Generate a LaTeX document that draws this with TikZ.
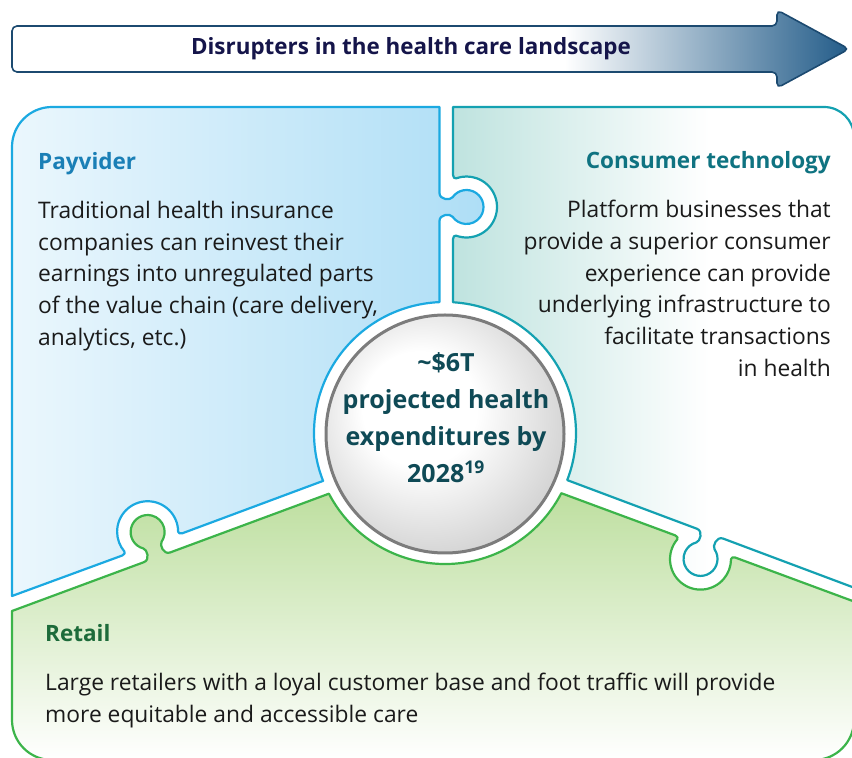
\documentclass[tikz,border=0pt]{standalone}
\usepackage{fontspec}
\setmainfont{Open Sans}

\definecolor{payline}{HTML}{1BA9E1}
\definecolor{payfill}{HTML}{AEDEF6}
\definecolor{payhd}{HTML}{1A7FB6}
\definecolor{techline}{HTML}{14A1B1}
\definecolor{techfill}{HTML}{BFE3DF}
\definecolor{techhd}{HTML}{0F7381}
\definecolor{shopline}{HTML}{3CB44A}
\definecolor{shopfill}{HTML}{BEDFA0}
\definecolor{shophd}{HTML}{1D6B3A}
\definecolor{ringgray}{HTML}{7C7C7C}
\definecolor{hubtxt}{HTML}{0F4A56}
\definecolor{bannerline}{HTML}{1C4A70}
\definecolor{bannerdark}{HTML}{235C89}
\definecolor{bannertxt}{HTML}{15154A}
\definecolor{bodytxt}{HTML}{1A1A1A}

\pgfdeclarehorizontalshading{techshade}{100bp}{color(0bp)=(techfill); color(25bp)=(techfill); color(57bp)=(white); color(100bp)=(white)}
\pgfdeclarehorizontalshading{bannershade}{100bp}{color(0bp)=(white); color(58bp)=(white); color(75bp)=(bannerdark); color(100bp)=(bannerdark)}
\pgfdeclareradialshading{hubshade}{\pgfqpoint{-7bp}{7bp}}{color(0bp)=(white); color(12bp)=(white); color(31bp)=(black!19); color(50bp)=(black!19)}

% local frame of a tab: base point, direction of travel
\tikzset{kf/.style n args={3}{shift={(#1,#2)},rotate=#3}}

% tab sticking out on the left of the direction of travel
\newcommand\knob[3]{
  -- ([kf={#1}{#2}{#3}]-14,0)
  .. controls ([kf={#1}{#2}{#3}]-7,0) and ([kf={#1}{#2}{#3}]-6.5,10.8) .. ([kf={#1}{#2}{#3}]-9.75,13.07)
  arc[start angle=235+#3, end angle=-55+#3, radius=17]
  .. controls ([kf={#1}{#2}{#3}]6.5,10.8) and ([kf={#1}{#2}{#3}]7,0) .. ([kf={#1}{#2}{#3}]14,0)}

% matching hole, cut on the right of the direction of travel
\newcommand\socket[3]{
  -- ([kf={#1}{#2}{#3}]-32,0)
  .. controls ([kf={#1}{#2}{#3}]-29.5,0) and ([kf={#1}{#2}{#3}]-28.2,-1.7) .. ([kf={#1}{#2}{#3}]-28.66,-3.07)
  arc[start angle=160+#3, end angle=380+#3, radius=30.5]
  .. controls ([kf={#1}{#2}{#3}]28.2,-1.7) and ([kf={#1}{#2}{#3}]29.5,0) .. ([kf={#1}{#2}{#3}]32,0)}

\begin{document}
\begin{tikzpicture}[x=1pt, y=1pt,
  piece/.style={line width=2.2pt, line join=round},
  head/.style={font=\fontsize{22.5}{27}\selectfont\bfseries, inner sep=0pt},
  body/.style={font=\fontsize{22.8}{31.7}\selectfont, text=bodytxt, inner sep=0pt}]

\useasboundingbox (0,0) rectangle (852,758);
\clip (0,0) rectangle (852,758);

% payvider
\draw[piece, draw=payline, left color=payfill!25!white, right color=payfill]
  (12,162) -- (12,611) arc[start angle=180, end angle=90, radius=40] -- (439.5,651)
  \knob{439.5}{551}{-90}
  -- ([shift={(445,325)}]92.41:131) arc[start angle=92.41, end angle=201.45, radius=131]
  \socket{152.3}{213.6}{200.3} -- cycle;

% consumer technology
\draw[piece, draw=techline, shade, shading=techshade]
  (453,651) -- (824,651) arc[start angle=90, end angle=0, radius=30] -- (854,170.35)
  \knob{710}{224.35}{159.44}
  -- ([shift={(445,325)}]-21.08:131) arc[start angle=-21.08, end angle=86.5, radius=131]
  \socket{453}{551}{90} -- cycle;

% retail
\draw[piece, draw=shopline, top color=shopfill, bottom color=white]
  (12,147) \knob{157}{200.67}{20.31}
  -- ([shift={(445,325)}]207.6:131) arc[start angle=207.6, end angle=332.63, radius=131]
  \socket{705.2}{211.55}{-20.3} -- (854,156.5) -- (854,38) arc[start angle=0, end angle=-90, radius=40]
  -- (52,-2) arc[start angle=270, end angle=180, radius=40] -- cycle;

% centre disc
\node[circle, draw=ringgray, line width=3pt, minimum size=238pt, inner sep=0pt, shade, shading=hubshade] (hub) at (445,324) {};
\node[font=\fontsize{25}{37}\selectfont\bfseries, text=hubtxt, align=center, inner sep=0pt, anchor=north] (hubtext) at (446,406)
  {\textasciitilde\$6T\\projected health\\expenditures by\\2028\textsuperscript{19}};

% banner arrow
\draw[draw=bannerline, line width=1.6pt, rounded corners=5pt, shade, shading=bannershade]
  (12,686) -- (12,732) -- (777,732) -- (777,748) -- (849,709) -- (777,670) -- (777,686) -- cycle;
\node[font=\fontsize{22.4}{26}\selectfont\bfseries, text=bannertxt] (title) at (411,709) {Disrupters in the health care landscape};

\node[head, text=payhd, anchor=base west] (payname) at (38,588) {Payvider};
\node[body, anchor=north west, align=left] (paybody) at (38,557)
  {Traditional health insurance\\companies can reinvest their\\earnings into unregulated parts\\of the value chain (care delivery,\\analytics, etc.)};

\node[head, text=techhd, anchor=base east] (techname) at (831,589) {Consumer technology};
\node[body, anchor=north east, align=right] (techbody) at (831,558)
  {Platform businesses that\\provide a superior consumer\\experience can provide\\underlying infrastructure to\\facilitate transactions\\in health};

\node[head, text=shophd, anchor=base west] (shopname) at (45,116) {Retail};
\node[body, anchor=north west, align=left] (shopbody) at (45,85)
  {Large retailers with a loyal customer base and foot traffic will provide\\more equitable and accessible care};

\end{tikzpicture}
\end{document}
